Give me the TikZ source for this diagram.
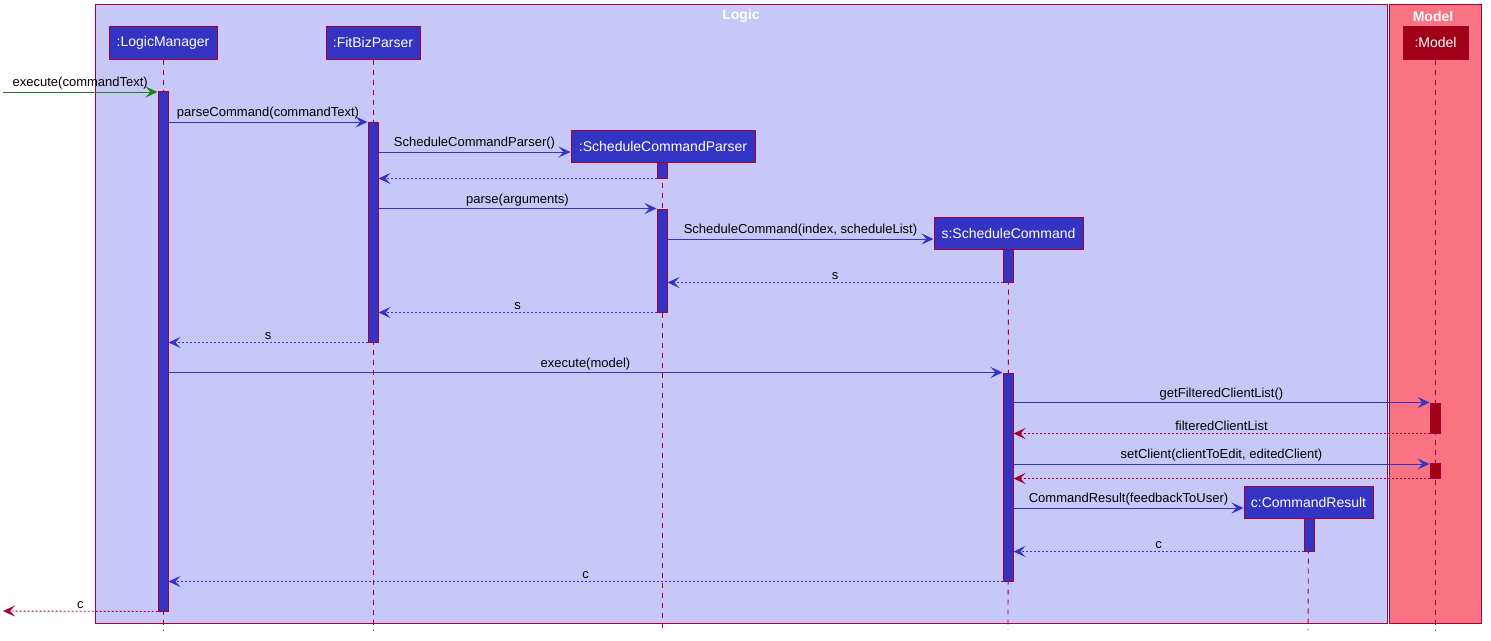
\documentclass[tikz,border=0pt]{standalone}
\usepackage{fontspec}
\setmainfont{Liberation Sans}
\usetikzlibrary{arrows.meta}

\begin{document}
\begin{tikzpicture}[x=1pt, y=-1pt]
    \definecolor{logicbg}{RGB}{200,200,248}
    \definecolor{modelbg}{RGB}{250,115,130}
    \definecolor{crim}{RGB}{168,0,54}
    \definecolor{partblue}{RGB}{51,51,196}
    \definecolor{msgblue}{RGB}{51,51,204}
    \definecolor{modeldark}{RGB}{160,0,24}
    \definecolor{callgreen}{RGB}{30,130,20}

    \tikzset{
        part/.style={draw=crim, fill=partblue, text=white, line width=1pt,
            minimum height=33pt, inner sep=0pt, font=\fontsize{14}{16}\selectfont},
        actbar/.style={draw=crim, fill=partblue, line width=1pt, minimum width=10pt, inner sep=0pt},
        msg/.style={draw=msgblue, line width=0.9pt, -{Stealth[length=12pt, width=11pt, inset=5pt]}},
        ret/.style={msg, dash pattern=on 2pt off 2pt},
        life/.style={draw=crim, line width=0.9pt, dash pattern=on 5pt off 5pt},
        lbl/.style={midway, above=1pt, inner sep=1pt, font=\fontsize{13}{15}\selectfont},
        title/.style={text=white, font=\fontsize{14}{16}\selectfont\bfseries}
    }

    \useasboundingbox (0,0) rectangle (1491,640);

    % boxes
    \filldraw[fill=logicbg, draw=crim, line width=1pt] (95,4) rectangle (1387,623);
    \filldraw[fill=modelbg, draw=crim, line width=1pt] (1389,4) rectangle (1481,623);
    \node[title] (logicT) at (741,16) {Logic};
    \node[title] (modelT) at (1433,16) {Model};

    % participants
    \node[part, minimum width=108pt] (lm) at (163,42.5) {:LogicManager};
    \node[part, minimum width=94pt] (fb) at (373,42.5) {:FitBizParser};
    \node[part, minimum width=184pt, minimum height=32pt] (scp) at (663,146) {:ScheduleCommandParser};
    \node[part, minimum width=149pt, minimum height=32pt] (sc) at (1008.5,233) {s:ScheduleCommand};
    \node[part, minimum width=129pt, minimum height=32pt] (cr) at (1308.5,502) {c:CommandResult};
    \node[part, minimum width=65pt, fill=modeldark] (md) at (1435.5,42.5) {:Model};

    % lifelines
    \draw[life] (lm.south) -- (163,630);
    \draw[life] (fb.south) -- (373,630);
    \draw[life] (scp.south -| 662,0) -- (662,630);
    \draw[life] (sc.south) -- (1008,630);
    \draw[life] (cr.south) -- (1308,630);
    \draw[life] (md.south -| 1435,0) -- (1435,630);

    % activations
    \node[actbar, minimum height=520pt] (lmA) at (163,351) {};
    \node[actbar, minimum height=220pt] (fbA) at (373,232) {};
    \node[actbar, minimum height=16pt] (scpA) at (662,170) {};
    \node[actbar, minimum height=103pt] (scpB) at (662,260.5) {};
    \node[actbar, minimum height=33pt] (scA) at (1008,265.5) {};
    \node[actbar, minimum height=208pt] (scB) at (1008,477) {};
    \node[actbar, minimum height=33pt] (crA) at (1309,534.5) {};
    \node[actbar, minimum height=30pt, fill=modeldark] (mdA) at (1435,418) {};
    \node[actbar, minimum height=15pt, fill=modeldark] (mdB) at (1435,470.5) {};

    \coordinate (user) at (3,92);
    \coordinate (userR) at (3,611);

    % messages
    \draw[msg, draw=callgreen] (user) -- (lmA.west |- user) node[lbl] {execute(commandText)};
    \draw[msg] (lmA.east |- 0,122) -- (fbA.west |- 0,122) node[lbl] {parseCommand(commandText)};
    \draw[msg] (fbA.east |- 0,152) -- (scp.west |- 0,152) node[lbl] {ScheduleCommandParser()};
    \draw[ret] (scpA.south west) -- (fbA.east |- scpA.south);
    \draw[msg] (fbA.east |- scpB.north) -- (scpB.north west) node[lbl] {parse(arguments)};
    \draw[msg] (scpB.east |- 0,239) -- (sc.west |- 0,239) node[lbl] {ScheduleCommand(index, scheduleList)};
    \draw[ret] (scA.south west) -- (scpB.east |- scA.south) node[lbl] {s};
    \draw[ret] (scpB.south west) -- (fbA.east |- scpB.south) node[lbl] {s};
    \draw[ret] (fbA.south west) -- (lmA.east |- fbA.south) node[lbl] {s};
    \draw[msg] (lmA.east |- scB.north) -- (scB.north west) node[lbl] {execute(model)};
    \draw[msg] (scB.east |- mdA.north) -- (mdA.north west) node[lbl] {getFilteredClientList()};
    \draw[ret, draw=crim] (mdA.south west) -- (scB.east |- mdA.south) node[lbl] {filteredClientList};
    \draw[msg] (scB.east |- 0,464) -- (mdB.west |- 0,464) node[lbl] {setClient(clientToEdit, editedClient)};
    \draw[ret, draw=crim] (mdB.south west) -- (scB.east |- mdB.south);
    \draw[msg] (scB.east |- 0,508) -- (cr.west |- 0,508) node[lbl] {CommandResult(feedbackToUser)};
    \draw[ret] (crA.south west) -- (scB.east |- crA.south) node[lbl] {c};
    \draw[ret] (scB.south west) -- (lmA.east |- scB.south) node[lbl] {c};
    \draw[ret, draw=crim] (lmA.south west) -- (userR) node[lbl] {c};
\end{tikzpicture}
\end{document}
